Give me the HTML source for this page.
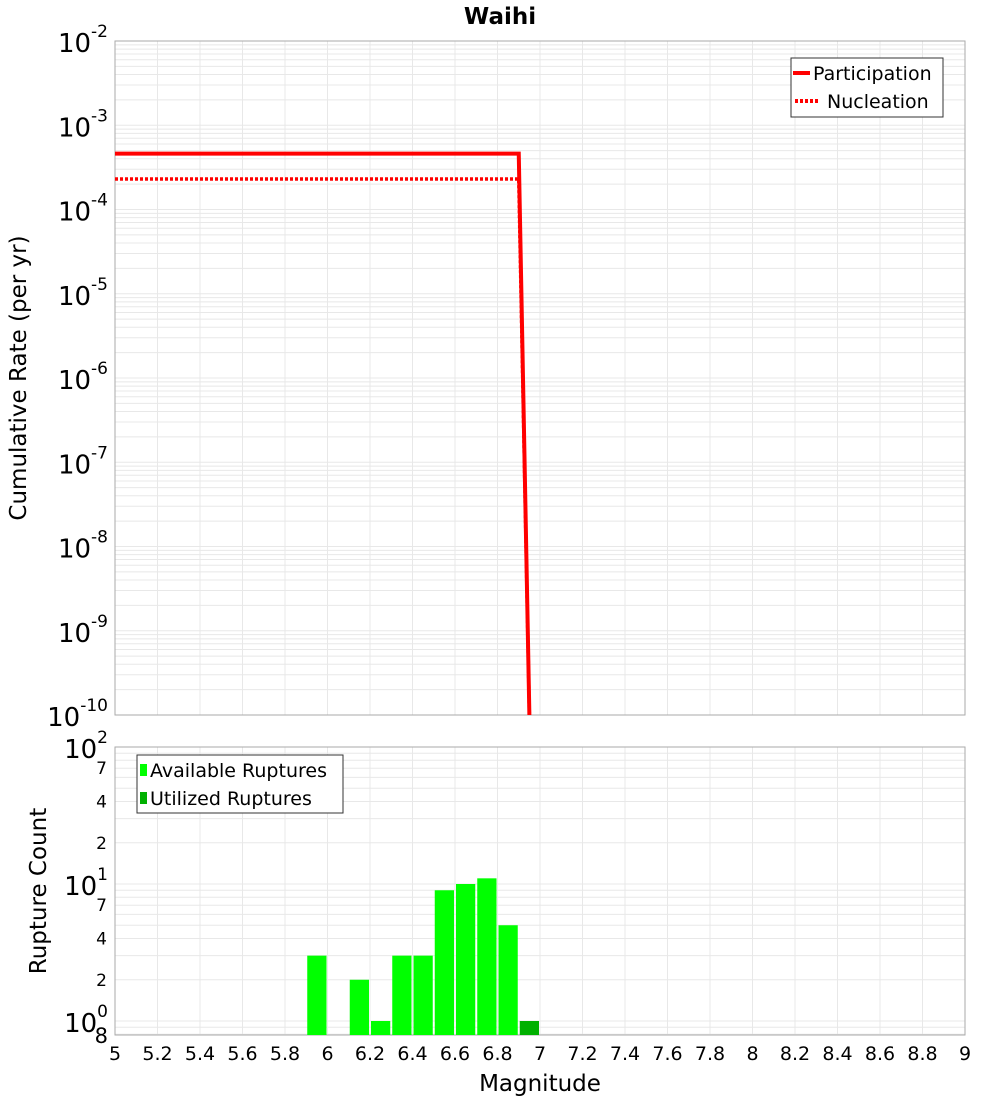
<!DOCTYPE html>
<html><head><meta charset="utf-8"><style>
body{margin:0;background:#fff;font-family:"DejaVu Sans","Liberation Sans",sans-serif}
svg text{font-family:"DejaVu Sans","Liberation Sans",sans-serif}
</style></head><body>
<svg id="c" width="1000" height="1100" xmlns="http://www.w3.org/2000/svg"></svg>
<script>
const mags = [5.95,6.05,6.15,6.25,6.35,6.45,6.55,6.65,6.75,6.85];
const availCounts = [3,0,2,1,3,3,9,10,11,5];
const utilMags = [6.95];
const utilCounts = [1];
const partX = [5.0,6.9,6.95];
const partY = [4.6e-4,4.6e-4,1e-10];
const nuclX = [5.0,6.9,6.95];
const nuclY = [2.3e-4,2.3e-4,1e-10];
const xTicks = [5,5.2,5.4,5.6,5.8,6,6.2,6.4,6.6,6.8,7,7.2,7.4,7.6,7.8,8,8.2,8.4,8.6,8.8,9];
const topExps = [-2,-3,-4,-5,-6,-7,-8,-9,-10];
const botMinor = [7,4,2];

const NS="http://www.w3.org/2000/svg";
const svg=document.getElementById('c');
function el(t,a,p){const e=document.createElementNS(NS,t);for(const k in a)e.setAttribute(k,a[k]);(p||svg).appendChild(e);return e;}
const L=115,R=965,T1=41,B1=715,T2=747,B2=1035;
const X=m=>L+(m-5)/(9-5)*(R-L);
const Y1=v=>T1+(-2-Math.log10(v))*(B1-T1)/8;
const dec2=137;
const Y2=v=>T2+(2-Math.log10(v))*dec2;

const ti=el('text',{x:500,y:24,'text-anchor':'middle','font-size':23,'font-weight':'bold'});
ti.textContent='Waihi';



const g1=el('g',{});


for(let e=-10;e<-2;e++)for(let k=1;k<10;k++){const y=Y1(k*Math.pow(10,e));el('line',{x1:L,x2:R,y1:y,y2:y,stroke:'#e8e8e8','stroke-width':1},g1);}
xTicks.forEach(t=>{el('line',{x1:X(t),x2:X(t),y1:T1,y2:B1,stroke:'#e8e8e8'},g1);});
const g2=el('g',{});


for(let e=-1;e<2;e++)for(let k=1;k<10;k++){const v=k*Math.pow(10,e);if(v<0.79)continue;const y=Y2(v);el('line',{x1:L,x2:R,y1:y,y2:y,stroke:'#e8e8e8'},g2);}
xTicks.forEach(t=>{el('line',{x1:X(t),x2:X(t),y1:T2,y2:B2,stroke:'#e8e8e8'},g2);});

const f1=el('rect',{x:L,y:T1,width:R-L,height:B1-T1,fill:'none',stroke:'#aaa'});


const f2=el('rect',{x:L,y:T2,width:R-L,height:B2-T2,fill:'none',stroke:'#aaa'});



function pts(xs,ys){return xs.map((x,i)=>X(x)+','+Y1(ys[i])).join(' ');}
const pl=el('polyline',{points:pts(partX,partY),fill:'none',stroke:'#ff0000','stroke-width':4});


const nl=el('polyline',{points:pts(nuclX,nuclY),fill:'none',stroke:'#ff0000','stroke-width':3.5,'stroke-dasharray':'3,2'});



mags.forEach((m,i)=>{if(availCounts[i]<=0)return;const y=Y2(availCounts[i]);
const b=el('rect',{x:X(m-0.05)+1,y:y,width:X(m+0.05)-X(m-0.05)-2,height:B2-y,fill:'#00ff00'});

});
utilMags.forEach((m,i)=>{const y=Y2(utilCounts[i]);
const b=el('rect',{x:X(m-0.05)+1,y:y,width:X(m+0.05)-X(m-0.05)-2,height:B2-y,fill:'#00b000'});

});

topExps.forEach(e=>{const y=Y1(Math.pow(10,e));
const t=el('text',{x:108,y:y+11,'text-anchor':'end','font-size':26});
t.textContent='10';


const s=el('tspan',{dy:-15,'font-size':17},t);s.textContent=String(e);});
[2,1,0].forEach(e=>{const y=Y2(Math.pow(10,e));
const t=el('text',{x:108,y:y+11,'text-anchor':'end','font-size':26});
t.textContent='10';


const s=el('tspan',{dy:-15,'font-size':17},t);s.textContent=String(e);});
[1,0].forEach(e=>botMinor.forEach(k=>{const y=Y2(k*Math.pow(10,e));
const t=el('text',{x:107,y:y+6,'text-anchor':'end','font-size':17});t.textContent=String(k);

}));
const eight=el('text',{x:108,y:1043,'text-anchor':'end','font-size':21});eight.textContent='8';



xTicks.forEach(t=>{const tx=el('text',{x:X(t),y:1060,'text-anchor':'middle','font-size':19});tx.textContent=String(t);

});
const xt=el('text',{x:540,y:1091,'text-anchor':'middle','font-size':23});xt.textContent='Magnitude';


const yt1=el('text',{x:0,y:0,'text-anchor':'middle','font-size':23,transform:'translate(26,378) rotate(-90)'});yt1.textContent='Cumulative Rate (per yr)';


const yt2=el('text',{x:0,y:0,'text-anchor':'middle','font-size':23,transform:'translate(46,891) rotate(-90)'});yt2.textContent='Rupture Count';



const lg=el('g',{});


el('rect',{x:791,y:58,width:152,height:59,fill:'#fff',stroke:'#333'},lg);
el('line',{x1:793,x2:810,y1:73,y2:73,stroke:'#f00','stroke-width':4},lg);
el('line',{x1:795,x2:820,y1:101,y2:101,stroke:'#f00','stroke-width':4,'stroke-dasharray':'3,2'},lg);
const l1=el('text',{x:813,y:80,'font-size':19},lg);l1.textContent='Participation';


const l2=el('text',{x:827,y:108,'font-size':19},lg);l2.textContent='Nucleation';


const lb=el('g',{});


el('rect',{x:137,y:755,width:206,height:58,fill:'#fff',stroke:'#333'},lb);
el('rect',{x:140,y:764,width:7,height:12,fill:'#00ff00'},lb);
el('rect',{x:140,y:792,width:7,height:12,fill:'#00b000'},lb);
const l3=el('text',{x:150,y:777,'font-size':19},lb);l3.textContent='Available Ruptures';


const l4=el('text',{x:150,y:805,'font-size':19},lb);l4.textContent='Utilized Ruptures';


</script>
</body></html>
